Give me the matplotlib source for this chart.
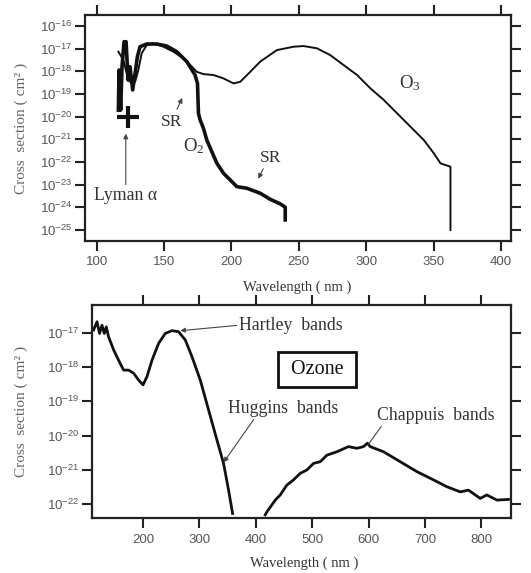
import numpy as np
import matplotlib
matplotlib.use('Agg')
import matplotlib.pyplot as plt
from matplotlib.ticker import FixedLocator, FuncFormatter

plt.rcParams['mathtext.default'] = 'regular'

# ---- top panel: O2 (thick) and O3 (thin) cross sections, log10(cm^2)
o2_wl = [116.1, 116.6, 117.8, 118.8, 120.3, 121.8, 123.3, 124.7, 126.7, 128.5, 130.2,
         132.2, 137.1, 144.6, 152.0, 159.4, 166.9, 173.0, 174.8, 175.5, 176.8, 179.2,
         181.7, 185.4, 189.2, 194.1, 199.0, 204.0, 211.4, 221.3, 228.8, 236.2, 239.9, 239.9]
o2_log = [-19.71, -17.94, -19.71, -17.79, -16.69, -16.69, -18.38, -17.79, -18.82, -18.09, -17.35,
          -16.91, -16.79, -16.79, -16.88, -17.13, -17.57, -18.16, -18.53, -19.85, -20.15, -20.51,
          -21.03, -21.54, -22.06, -22.50, -22.79, -23.09, -23.16, -23.38, -23.65, -23.85, -24.0, -24.56]

o3_wl = [116.1, 119.8, 123.5, 126.0, 128.5, 130.9, 133.4, 137.1, 142.1, 149.5, 156.9, 164.4,
         170.6, 174.3, 179.2, 186.6, 194.1, 201.5, 206.5, 213.9, 221.3, 233.7, 246.1, 253.5,
         263.4, 273.3, 283.2, 293.2, 303.1, 313.0, 322.9, 332.8, 342.7, 350.2, 355.1, 362.5, 362.5]
o3_log = [-17.13, -17.50, -18.38, -18.53, -18.46, -17.94, -17.20, -16.84, -16.76, -16.91, -17.13, -17.43,
          -17.79, -18.02, -18.12, -18.16, -18.31, -18.53, -18.46, -18.02, -17.57, -17.06, -16.91, -16.88,
          -16.98, -17.28, -17.72, -18.16, -18.75, -19.26, -19.85, -20.44, -21.03, -21.62, -22.06, -22.21, -25.0]

lyman_wl, lyman_log = 123.0, -20.0

# ---- bottom panel: ozone
oz_wl = [112.4, 118.4, 123.0, 127.3, 131.4, 134.9, 139.0, 147.9, 156.7, 165.6, 174.5, 183.3,
         192.2, 200.0, 207.1, 216.0, 227.7, 239.5, 251.4, 263.1, 275.0, 286.9, 301.6, 316.3,
         331.2, 342.9, 351.8, 358.9]
oz_log = [-16.92, -16.68, -17.02, -16.78, -17.02, -16.83, -17.12, -17.50, -17.80, -18.09, -18.09, -18.18,
          -18.38, -18.52, -18.28, -17.80, -17.31, -17.02, -16.94, -16.97, -17.21, -17.70, -18.38, -19.25,
          -20.13, -20.81, -21.59, -22.27]

ch_wl = [416.8, 419.9, 434.6, 443.4, 455.3, 467.0, 478.9, 490.8, 502.5, 514.4, 526.2, 544.0,
         564.5, 579.4, 591.1, 598.2, 603.0, 626.6, 656.2, 685.8, 715.2, 739.0, 762.6, 777.3,
         798.1, 809.9, 827.7, 848.2]
ch_log = [-22.31, -22.22, -21.88, -21.73, -21.44, -21.29, -21.10, -21.00, -20.81, -20.76, -20.57, -20.47,
          -20.32, -20.37, -20.32, -20.22, -20.32, -20.47, -20.76, -21.05, -21.29, -21.49, -21.64, -21.59,
          -21.83, -21.73, -21.88, -21.86]

top_xticks = [100, 150, 200, 250, 300, 350, 400]
top_yexp = list(range(-25, -15))
bot_xticks = [200, 300, 400, 500, 600, 700, 800]
bot_yexp = list(range(-22, -16))

SERIF = 'Liberation Serif'
SANS = 'Liberation Sans'
tick_c = '#555555'
text_c = '#333333'


def style_axes(ax, xticks, yexp):
    ax.set_yscale('log')
    for s in ax.spines.values():
        s.set_linewidth(1.6)
        s.set_color('#222222')
    ax.xaxis.set_major_locator(FixedLocator(xticks))
    ax.yaxis.set_major_locator(FixedLocator([10.0 ** e for e in yexp]))
    ax.yaxis.set_minor_locator(FixedLocator([]))
    ax.yaxis.set_major_formatter(FuncFormatter(lambda v, p: '10$^{%d}$' % round(np.log10(v))))
    ax.tick_params(which='major', direction='out', length=7, width=1.5, color='#222222',
                   top=True, right=True, labelsize=9.5, labelcolor=tick_c)
    ax.tick_params(axis='x', pad=4)
    ax.tick_params(axis='y', pad=2)
    for lab in ax.get_xticklabels() + ax.get_yticklabels():
        lab.set_fontfamily(SANS)


fig = plt.figure(figsize=(5.31, 5.73), dpi=100)
ax1 = fig.add_axes([0.160, 0.5794, 0.8023, 0.3944])
ax2 = fig.add_axes([0.1733, 0.0955, 0.789, 0.3723])

# top panel
ax1.plot(o3_wl, 10.0 ** np.array(o3_log), color='#111111', lw=1.4)
ax1.plot(o2_wl, 10.0 ** np.array(o2_log), color='#111111', lw=2.6)
ax1.plot([lyman_wl], [10.0 ** lyman_log], marker='+', ms=16, mew=3, color='#111111')
style_axes(ax1, top_xticks, top_yexp)
ax1.set_xlim(91.3, 407.4)
ax1.set_ylim(10 ** -25.49, 10 ** -15.51)

arr = dict(arrowstyle='-|>', color='#444444', lw=0.8, mutation_scale=7, shrinkA=0, shrinkB=0)
ax1.annotate('Lyman α', xy=(121.6, 10 ** -20.75), xytext=(121.6, 10 ** -23.5),
             ha='center', va='center', family=SERIF, fontsize=12.8, color=text_c,
             arrowprops=dict(arr, relpos=(0.5, 1.0)))
ax1.annotate('', xy=(163.5, 10 ** -19.17), xytext=(159.6, 10 ** -19.67), arrowprops=arr)
ax1.text(155.7, 10 ** -20.25, 'SR', ha='center', va='center', family=SERIF, fontsize=12.5, color=text_c)
ax1.text(171.8, 10 ** -21.3, 'O$_2$', ha='center', va='center', family=SERIF, fontsize=13.5, color=text_c)
ax1.annotate('', xy=(219.9, 10 ** -22.74), xytext=(223.6, 10 ** -22.3), arrowprops=arr)
ax1.text(221.1, 10 ** -22.16, 'SR', ha='left', va='bottom', family=SERIF, fontsize=12.5, color=text_c)
ax1.text(332.2, 10 ** -18.53, 'O$_3$', ha='center', va='center', family=SERIF, fontsize=13.5, color=text_c)

ax1.set_xlabel('Wavelength ( nm )', family=SERIF, fontsize=10.5, color=text_c)
ax1.set_ylabel('Cross  section ( cm² )', family=SERIF, fontsize=11, color='#666666')
ax1.xaxis.set_label_coords(0.497, -0.173)
ax1.yaxis.set_label_coords(-0.134, 0.5)

# bottom panel
ax2.plot(oz_wl, 10.0 ** np.array(oz_log), color='#111111', lw=2.0)
ax2.plot(ch_wl, 10.0 ** np.array(ch_log), color='#111111', lw=2.0)
style_axes(ax2, bot_xticks, bot_yexp)
ax2.set_xlim(109.6, 852.7)
ax2.set_ylim(10 ** -22.41, 10 ** -16.19)

ax2.annotate('Hartley  bands', xy=(266.1, 10 ** -16.94), xytext=(371.0, 10 ** -16.78),
             ha='left', va='center', family=SERIF, fontsize=12.8, color=text_c,
             arrowprops=dict(arr, relpos=(0.0, 0.5)))
ax2.annotate('Huggins  bands', xy=(342.9, 10 ** -20.78), xytext=(448.8, 10 ** -19.2),
             ha='center', va='center', family=SERIF, fontsize=12.8, color=text_c,
             arrowprops=dict(arr, relpos=(0.25, 0.0)))
ax2.annotate('Chappuis  bands', xy=(600.0, 10 ** -20.25), xytext=(720.0, 10 ** -19.4),
             ha='center', va='center', family=SERIF, fontsize=12.8, color=text_c,
             arrowprops=dict(arr, arrowstyle='-', relpos=(0.05, 0.0)))
ax2.text(508.5, 10 ** -18.06, ' Ozone ', ha='center', va='center', family=SERIF, fontsize=14.5,
         color='#111111', bbox=dict(boxstyle='square,pad=0.4', fc='white', ec='#111111', lw=2.0))

ax2.set_xlabel('Wavelength ( nm )', family=SERIF, fontsize=10.5, color=text_c)
ax2.set_ylabel('Cross  section ( cm² )', family=SERIF, fontsize=11, color='#666666')
ax2.xaxis.set_label_coords(0.507, -0.18)
ax2.yaxis.set_label_coords(-0.153, 0.5)

fig.savefig('out.png', dpi=100)
